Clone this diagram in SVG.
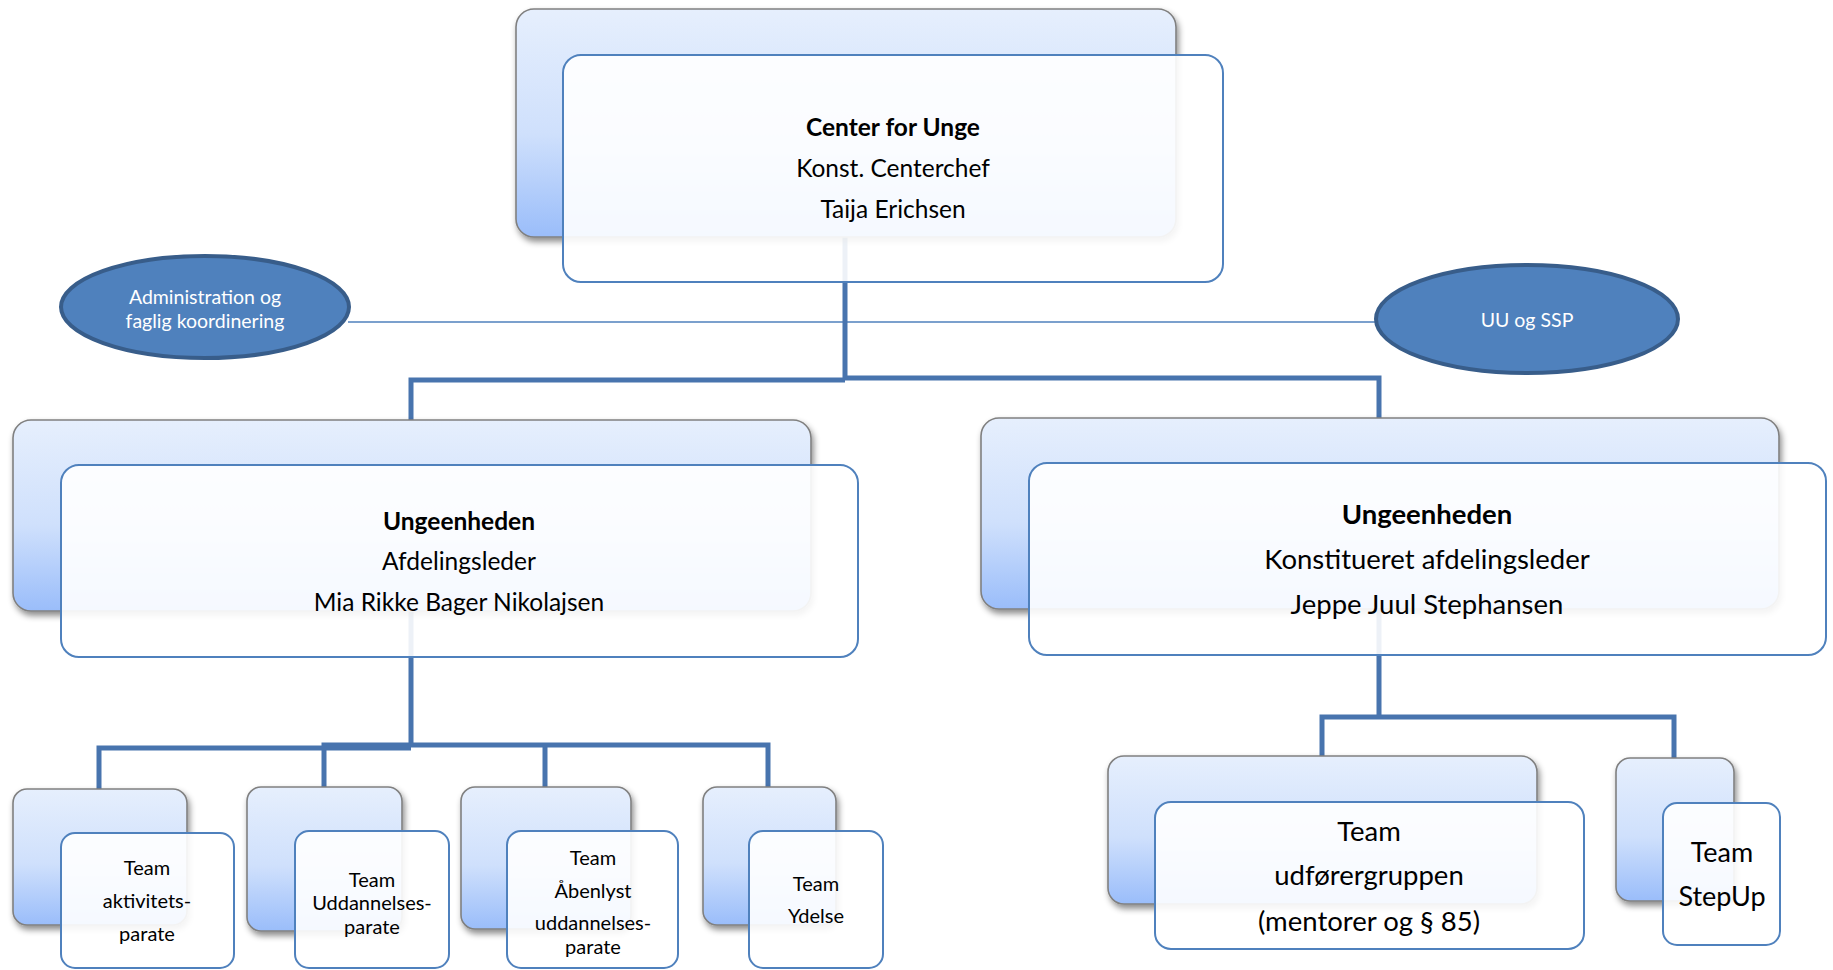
<svg xmlns="http://www.w3.org/2000/svg" width="1833" height="970" viewBox="0 0 1833 970">
<defs>
<linearGradient id="bg" x1="0" y1="0" x2="0" y2="1">
<stop offset="0" stop-color="#E6EFFD"/>
<stop offset="0.55" stop-color="#CFE0FC"/>
<stop offset="1" stop-color="#9ABDFA"/>
</linearGradient>
<filter id="sh" x="-10%" y="-10%" width="125%" height="130%">
<feDropShadow dx="2" dy="4" stdDeviation="3" flood-color="#000" flood-opacity="0.45"/>
</filter>
<style>
.back{fill:url(#bg);stroke:#808080;stroke-width:1.6;filter:url(#sh)}
.front{fill:#fff;fill-opacity:0.9;stroke:#4F81BD;stroke-width:2}
.ell{fill:#4F81BD;stroke:#385D8A;stroke-width:4}
.con{fill:none;stroke:#4874AE;stroke-width:5}
.thin{fill:none;stroke:#4F81BD;stroke-width:1.6}
text{font-family:Lato,"Open Sans","Liberation Sans",sans-serif;fill:#000;text-anchor:middle;dominant-baseline:central}
.big{font-size:24.5px}
.mid{font-size:20px}
.w{fill:#fff;font-size:19.5px}
.b{font-weight:bold}
</style>
</defs>
<rect width="1833" height="970" fill="#fff"/>
<g id="connectors">
<line class="thin" x1="348" y1="322" x2="1376" y2="322"/>
<path class="con" d="M845,237 V378 M411,420 V380 H845 M845,378 H1379 V418"/>
<path class="con" d="M411,611 V745 M99,789 V748 H411 M324,787 V745 H768 V787 M545,745 V787"/>
<path class="con" d="M1379,609 V717 M1322,756 V717 H1674 V758"/>
</g>
<g id="ellipse-admin">
<ellipse class="ell" cx="205" cy="307" rx="144" ry="51"/>
<text class="w" x="205" y="296">Administration og</text>
<text class="w" x="205" y="320">faglig koordinering</text>
</g>
<g id="ellipse-uu">
<ellipse class="ell" cx="1527" cy="319" rx="151" ry="54"/>
<text class="w" x="1527" y="319">UU og SSP</text>
</g>
<g id="node-center">
<rect class="back" x="516" y="9" width="660" height="228" rx="18"/>
<rect class="front" x="563" y="55" width="660" height="227" rx="18"/>
<text class="big b" x="893" y="126">Center for Unge</text>
<text class="big" x="893" y="167">Konst. Centerchef</text>
<text class="big" x="893" y="208">Taija Erichsen</text>
</g>
<g id="node-ungeenheden-left">
<rect class="back" x="13" y="420" width="798" height="191" rx="18"/>
<rect class="front" x="61" y="465" width="797" height="192" rx="18"/>
<text class="big b" x="459" y="520">Ungeenheden</text>
<text class="big" x="459" y="560">Afdelingsleder</text>
<text class="big" x="459" y="601">Mia Rikke Bager Nikolajsen</text>
</g>
<g id="node-ungeenheden-right">
<rect class="back" x="981" y="418" width="798" height="191" rx="18"/>
<rect class="front" x="1029" y="463" width="797" height="192" rx="18"/>
<text class="big b" x="1427" y="513" style="font-size:27.5px">Ungeenheden</text>
<text class="big" x="1427" y="558" style="font-size:27.5px">Konstitueret afdelingsleder</text>
<text class="big" x="1427" y="603" style="font-size:27.5px">Jeppe Juul Stephansen</text>
</g>
<g id="node-aktivitetsparate">
<rect class="back" x="13" y="789" width="174" height="136" rx="14"/>
<rect class="front" x="61" y="833" width="173" height="135" rx="14"/>
<text class="mid" x="147" y="867">Team</text>
<text class="mid" x="147" y="900">aktivitets-</text>
<text class="mid" x="147" y="933">parate</text>
</g>
<g id="node-uddannelsesparate">
<rect class="back" x="247" y="787" width="155" height="144" rx="14"/>
<rect class="front" x="295" y="831" width="154" height="137" rx="14"/>
<text class="mid" x="372" y="879">Team</text>
<text class="mid" x="372" y="902">Uddannelses-</text>
<text class="mid" x="372" y="926">parate</text>
</g>
<g id="node-aabenlyst">
<rect class="back" x="461" y="787" width="170" height="142" rx="14"/>
<rect class="front" x="507" y="831" width="171" height="137" rx="14"/>
<text class="mid" x="593" y="857">Team</text>
<text class="mid" x="593" y="890">Åbenlyst</text>
<text class="mid" x="593" y="922">uddannelses-</text>
<text class="mid" x="593" y="946">parate</text>
</g>
<g id="node-ydelse">
<rect class="back" x="703" y="787" width="133" height="138" rx="14"/>
<rect class="front" x="749" y="831" width="134" height="137" rx="14"/>
<text class="mid" x="816" y="883">Team</text>
<text class="mid" x="816" y="915">Ydelse</text>
</g>
<g id="node-udfoerergruppen">
<rect class="back" x="1108" y="756" width="429" height="148" rx="16"/>
<rect class="front" x="1155" y="802" width="429" height="147" rx="16"/>
<text class="big" x="1369" y="830" style="font-size:27.5px">Team</text>
<text class="big" x="1369" y="874" style="font-size:27.5px">udførergruppen</text>
<text class="big" x="1369" y="920" style="font-size:27.5px">(mentorer og § 85)</text>
</g>
<g id="node-stepup">
<rect class="back" x="1616" y="758" width="118" height="143" rx="14"/>
<rect class="front" x="1663" y="803" width="117" height="142" rx="14"/>
<text class="big" x="1722" y="851" style="font-size:27px">Team</text>
<text class="big" x="1722" y="895" style="font-size:27px">StepUp</text>
</g>
</svg>
